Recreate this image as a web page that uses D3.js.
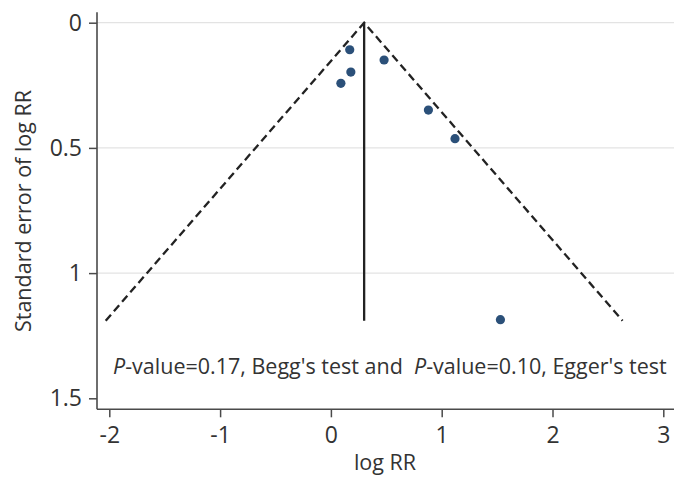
<!DOCTYPE html>
<html><head><meta charset="utf-8">
<script src="https://cdn.jsdelivr.net/npm/d3@7"></script>
<style>body{margin:0;background:#fff}svg{display:block}</style>
</head><body>
<svg id="c" width="687" height="487"></svg>
<script>
// Data
const logRR = [0.17, 0.18, 0.09, 0.48, 0.88, 1.12, 1.53];
const seLogRR = [0.108, 0.197, 0.242, 0.149, 0.349, 0.463, 1.186];
const pooled = 0.30;
const maxSE = 1.19;
const xTicks = [-2, -1, 0, 1, 2, 3];
const yTicks = [0, 0.5, 1, 1.5];
const gridTicks = [0, 0.5, 1];
const annotation1 = "P";
const annotation2 = "-value=0.17, Begg's test and  ";
const annotation3 = "P";
const annotation4 = "-value=0.10, Egger's test";

(function () {
const font = "'Open Sans', sans-serif";
const svg = d3.select("#c");
const x = d3.scaleLinear().domain([-2, 3]).range([109.3, 663.3]);
const y = d3.scaleLinear().domain([0, 1.5]).range([22.7, 398.3]);
const pLeft = 97, pRight = 674, pTop = y(-0.042), pBottom = 409.3;

// gridlines
svg.append("g").selectAll("line").data(gridTicks).join("line")
  .attr("x1", pLeft).attr("x2", pRight)
  .attr("y1", d => y(d)).attr("y2", d => y(d))
  .attr("stroke", "#e3e3e3").attr("stroke-width", 1.3);

// axes
const axisColor = "#4a4a4a";
const xAxis = svg.append("g").attr("transform", `translate(0,${pBottom})`)
  .call(d3.axisBottom(x).tickValues(xTicks).tickSize(8).tickPadding(9).tickFormat(d3.format("d")));
const yAxis = svg.append("g").attr("transform", `translate(${pLeft},0)`)
  .call(d3.axisLeft(y).tickValues(yTicks).tickSize(8).tickPadding(7).tickFormat(d => String(d)));
[xAxis, yAxis].forEach(g => {
  g.select(".domain").remove();
  g.selectAll(".tick line").attr("stroke", axisColor).attr("stroke-width", 1.5);
  g.selectAll(".tick text").attr("fill", "#333").style("font-family", font).style("font-size", "23px");
});
xAxis.selectAll(".tick text").text(d => d < 0 ? "-" + Math.abs(d) : d);
svg.append("line").attr("x1", pLeft).attr("x2", pRight).attr("y1", pBottom).attr("y2", pBottom)
  .attr("stroke", axisColor).attr("stroke-width", 1.6);
svg.append("line").attr("x1", pLeft).attr("x2", pLeft).attr("y1", pTop).attr("y2", pBottom)
  .attr("stroke", axisColor).attr("stroke-width", 1.6);

// funnel
const funnel = [[pooled - 1.96 * maxSE, maxSE], [pooled, 0], [pooled + 1.96 * maxSE, maxSE]];
svg.append("path")
  .attr("d", d3.line().x(d => x(d[0])).y(d => y(d[1]))(funnel))
  .attr("fill", "none").attr("stroke", "#222").attr("stroke-width", 2.3)
  .attr("stroke-dasharray", "8,4.5");
svg.append("line").attr("x1", x(pooled)).attr("x2", x(pooled))
  .attr("y1", y(0)).attr("y2", y(maxSE))
  .attr("stroke", "#222").attr("stroke-width", 2.3);

// points
svg.append("g").selectAll("circle").data(logRR.map((v, i) => [v, seLogRR[i]])).join("circle")
  .attr("cx", d => x(d[0])).attr("cy", d => y(d[1])).attr("r", 4.6)
  .attr("fill", "#2b5079");

// annotation
const t = svg.append("text").attr("x", 113).attr("y", 374)
  .attr("fill", "#333").style("font-family", font).style("font-size", "21.5px")
  .style("white-space", "pre");
t.append("tspan").style("font-style", "italic").text(annotation1);
t.append("tspan").text(annotation2);
t.append("tspan").style("font-style", "italic").text(annotation3);
t.append("tspan").text(annotation4);

// axis titles
svg.append("text").attr("x", 385).attr("y", 470).attr("text-anchor", "middle")
  .attr("fill", "#333").style("font-family", font).style("font-size", "21.5px").text("log RR");
svg.append("text").attr("transform", "translate(31,211) rotate(-90)").attr("text-anchor", "middle")
  .attr("fill", "#333").style("font-family", font).style("font-size", "21.5px").text("Standard error of log RR");
})();
</script>
</body></html>
